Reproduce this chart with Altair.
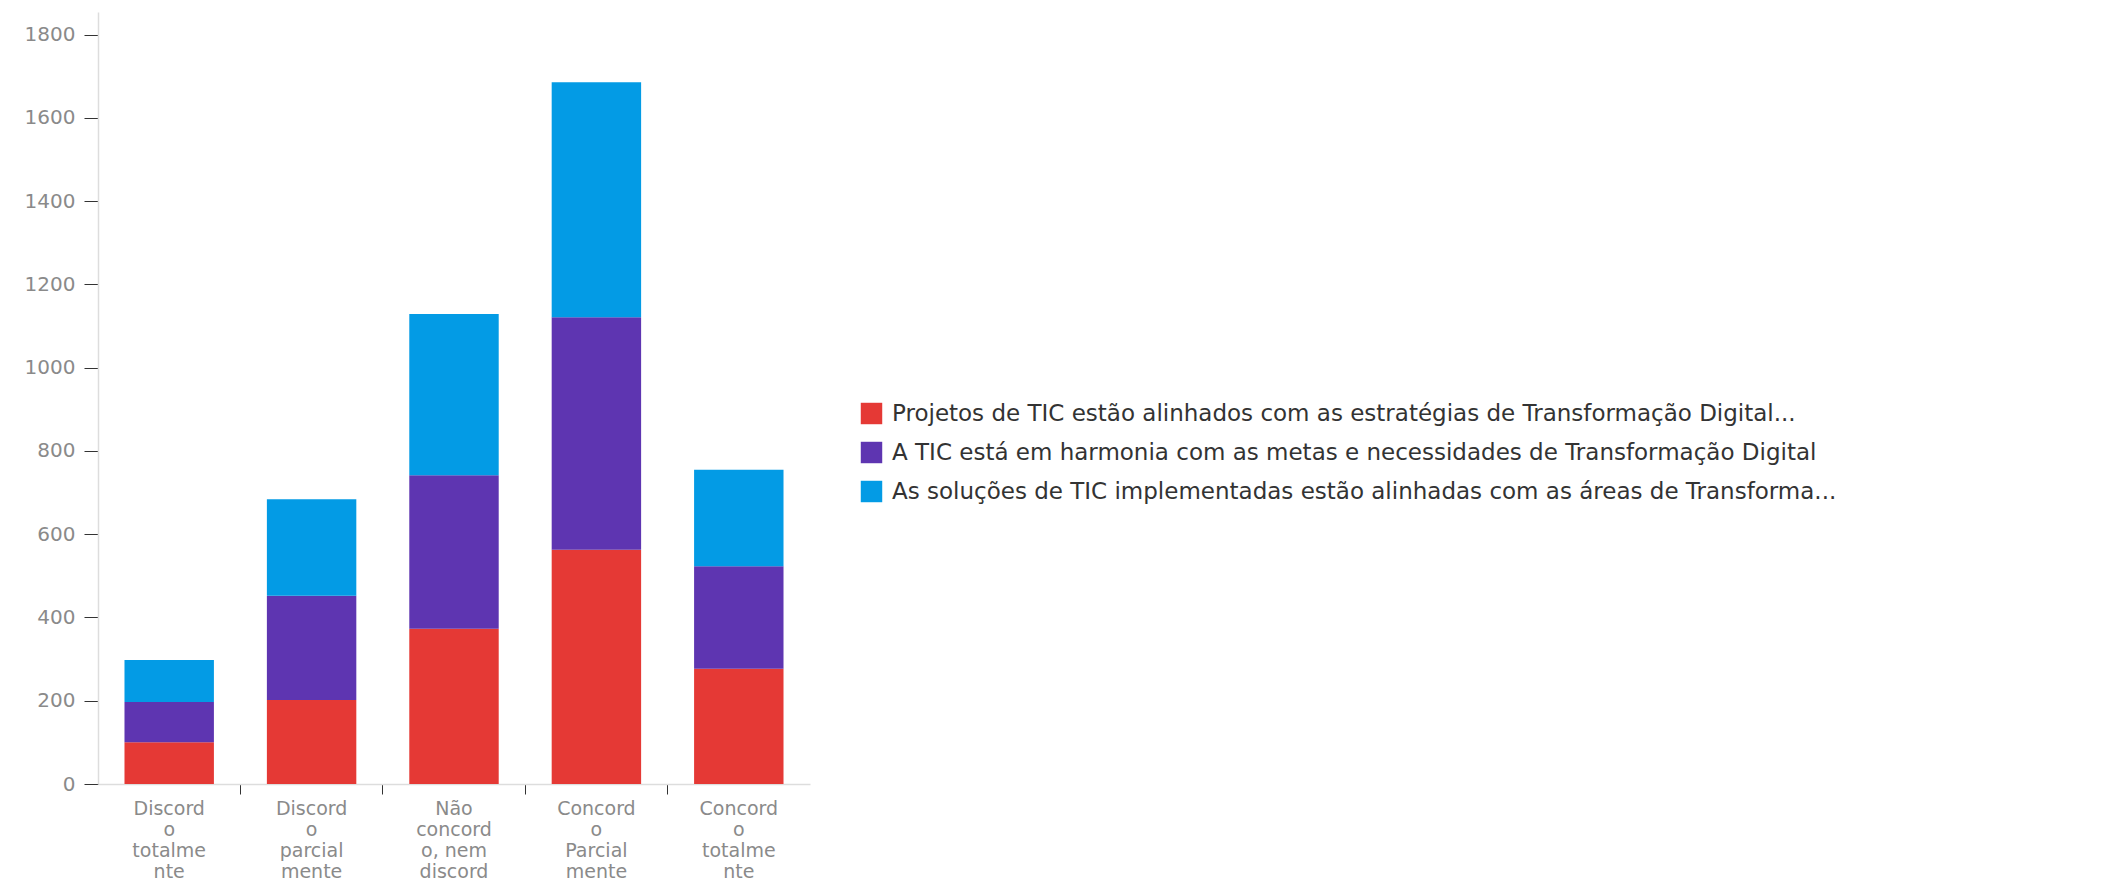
import altair as alt
import pandas as pd

categories = [
    "Discordo totalmente",
    "Discordo parcialmente",
    "Não concordo, nem discordo",
    "Concordo Parcialmente",
    "Concordo totalmente",
]
label_lines = [
    ["Discord", "o", "totalme", "nte"],
    ["Discord", "o", "parcial", "mente"],
    ["Não", "concord", "o, nem", "discord", "o"],
    ["Concord", "o", "Parcial", "mente"],
    ["Concord", "o", "totalme", "nte"],
]
series = [
    "Projetos de TIC estão alinhados com as estratégias de Transformação Digital...",
    "A TIC está em harmonia com as metas e necessidades de Transformação Digital",
    "As soluções de TIC implementadas estão alinhadas com as áreas de Transforma...",
]
colors = ["#E53935", "#5E35B1", "#039BE5"]
values_projetos = [100, 202, 373, 563, 277]
values_harmonia = [97, 250, 369, 558, 246]
values_solucoes = [101, 232, 387, 565, 232]
y_ticks = [0, 200, 400, 600, 800, 1000, 1200, 1400, 1600, 1800]

rows = []
for si, (name, vals) in enumerate(zip(series, [values_projetos, values_harmonia, values_solucoes])):
    for cat, v in zip(categories, vals):
        rows.append({"categoria": cat, "serie": name, "valor": v, "ordem": si})
df = pd.DataFrame(rows)

totals = [a + b + c for a, b, c in zip(values_projetos, values_harmonia, values_solucoes)]
y_max = max(totals) * 1.1

cat_list = "[" + ",".join("'" + c + "'" for c in categories) + "]"
lines_list = "[" + ",".join("[" + ",".join("'" + l + "'" for l in ls) + "]" for ls in label_lines) + "]"
label_expr = f"{lines_list}[indexof({cat_list}, datum.value)]"

FONT = "DejaVu Sans"
last_cat = categories[-1]

chart = (
    alt.Chart(df)
    .mark_bar(width=alt.RelativeBandSize(0.628))
    .encode(
        x=alt.X(
            "categoria:N",
            sort=categories,
            title=None,
            scale=alt.Scale(paddingInner=0, paddingOuter=0),
            axis=alt.Axis(
                labelExpr=label_expr,
                labelAngle=0,
                labelFontSize=19,
                labelLineHeight=21,
                labelColor="#8a8a8a",
                labelFont=FONT,
                labelLimit=300,
                labelPadding=5,
                bandPosition=1,
                tickColor="#333333",
                tickOpacity={"condition": {"test": f"datum.value === '{last_cat}'", "value": 0}, "value": 1},
                tickSize=10,
                domainColor="#dddddd",
                domainWidth=1.5,
            ),
        ),
        y=alt.Y(
            "valor:Q",
            stack="zero",
            title=None,
            scale=alt.Scale(domain=[0, y_max], nice=False),
            axis=alt.Axis(
                values=y_ticks,
                format="d",
                grid=False,
                labelFontSize=20,
                labelColor="#8a8a8a",
                labelFont=FONT,
                labelPadding=9,
                tickColor="#333333",
                tickSize=14,
                domainColor="#dddddd",
                domainWidth=1.5,
            ),
        ),
        color=alt.Color(
            "serie:N",
            sort=series,
            scale=alt.Scale(domain=series, range=colors),
            legend=alt.Legend(
                title=None,
                orient="none",
                legendX=762,
                legendY=390,
                symbolType="square",
                symbolSize=460,
                symbolStrokeWidth=0,
                labelFontSize=23,
                labelFont=FONT,
                labelColor="#333333",
                labelLimit=0,
                labelOffset=9,
                rowPadding=15,
                symbolOffset=0,
            ),
        ),
        order=alt.Order("ordem:Q", sort="ascending"),
    )
    .properties(
        width=712,
        height=772,
        autosize=alt.AutoSizeParams(type="none"),
        padding={"left": 90, "top": 4, "right": 1285, "bottom": 104},
    )
    .configure_view(stroke=None)
)

chart.save("out.html", embed_options={"renderer": "svg", "actions": False})
